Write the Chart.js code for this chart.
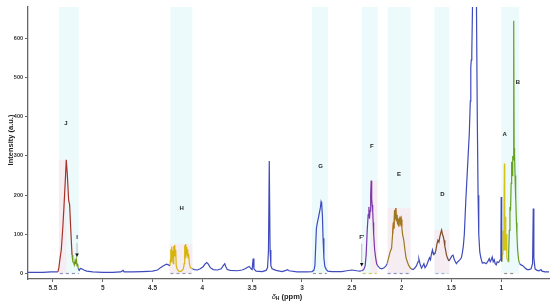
<!DOCTYPE html>
<html><head><meta charset="utf-8">
<script src="https://cdn.jsdelivr.net/npm/chart.js@4/dist/chart.umd.min.js"></script>
<style>html,body{margin:0;padding:0;background:#fff}#c{display:block}</style>
</head><body><canvas id="c" width="550" height="305"></canvas>
<script>
// ---- data (ppm, intensity a.u.) ----
const xTicks = [5.5, 5, 4.5, 4, 3.5, 3, 2.5, 2, 1.5, 1];
const yTicks = [0, 100, 200, 300, 400, 500, 600];

const blue1 = [[5.75,3],[5.68,3],[5.6,3],[5.52,4],[5.45,4]];
const peakJ = [[5.45,4],[5.44,15],[5.43,35],[5.416,60],[5.40,120],[5.389,170],[5.375,240],[5.366,290],[5.356,256],[5.342,187],[5.332,175],[5.322,119],[5.308,47]];
const peakI = [[5.308,47],[5.30,30],[5.292,28],[5.285,22],[5.278,32],[5.272,24],[5.265,36],[5.258,20],[5.252,25],[5.245,12]];
const blue2 = [[5.245,12],[5.235,8],[5.225,13],[5.21,12],[5.19,9],[5.16,6],[5.10,4],[5.0,3],[4.9,3],[4.82,4],[4.795,8],[4.785,4],[4.7,4],[4.6,5],[4.5,6],[4.45,9],[4.42,15],[4.39,20],[4.36,24],[4.34,22],[4.325,20]];
const peakH = [[4.325,20],[4.32,35],[4.316,62],[4.312,30],[4.307,68],[4.302,40],[4.297,58],[4.292,25],[4.287,70],[4.282,45],[4.277,73],[4.272,50],[4.267,60],[4.262,20],[4.25,10],[4.23,5],[4.21,6],[4.19,12],[4.182,25],[4.177,72],[4.172,40],[4.167,75],[4.162,50],[4.157,68],[4.152,45],[4.147,62],[4.142,40],[4.137,50],[4.13,25],[4.12,15],[4.10,12]];
const blue3 = [[4.10,12],[4.08,10],[4.05,9],[4.02,12],[3.99,18],[3.97,25],[3.955,28],[3.94,24],[3.92,15],[3.89,10],[3.85,9],[3.81,12],[3.79,20],[3.775,25],[3.765,18],[3.75,10],[3.72,8],[3.65,7],[3.6,9],[3.57,12],[3.545,16],[3.53,18],[3.51,12],[3.50,10],[3.49,38],[3.482,12],[3.46,6],[3.40,5],[3.36,8],[3.345,15],[3.336,60],[3.328,287],[3.32,60],[3.312,20],[3.30,12],[3.26,8],[3.2,5],[3.16,8],[3.145,10],[3.13,7],[3.05,4],[2.95,4],[2.90,5],[2.88,8],[2.87,20],[2.862,70],[2.855,115],[2.845,130],[2.835,142],[2.825,155],[2.815,168],[2.808,183],[2.802,178],[2.795,150],[2.788,90],[2.78,40],[2.77,18],[2.755,10],[2.74,6],[2.7,5],[2.6,5],[2.55,7],[2.5,9],[2.45,7],[2.42,6],[2.40,7]];
const peakF = [[2.40,7],[2.38,10],[2.365,20],[2.355,50],[2.345,110],[2.335,150],[2.328,170],[2.322,140],[2.316,160],[2.31,200],[2.305,237],[2.30,190],[2.295,175],[2.29,162],[2.285,130],[2.28,100],[2.27,60],[2.26,40],[2.25,25],[2.24,20]];
const blue4 = [[2.24,20],[2.22,14],[2.20,12],[2.18,14],[2.16,18],[2.145,25]];
const peakE = [[2.145,25],[2.13,40],[2.115,55],[2.10,65],[2.09,100],[2.082,130],[2.076,115],[2.07,162],[2.064,140],[2.058,167],[2.052,135],[2.046,150],[2.04,125],[2.034,140],[2.028,120],[2.022,135],[2.016,145],[2.01,130],[2.004,138],[1.998,120],[1.99,100],[1.978,85],[1.966,60],[1.955,40],[1.94,28],[1.927,20],[1.905,12]];
const peakEtop = [[2.09,100],[2.082,130],[2.076,115],[2.07,162],[2.064,140],[2.058,167],[2.052,135],[2.046,150],[2.04,125],[2.034,140],[2.028,120],[2.022,135],[2.016,145],[2.01,130],[2.004,138],[1.998,120]];
const blue5 = [[1.905,12],[1.885,10],[1.867,14],[1.85,20],[1.835,30],[1.826,37],[1.815,25],[1.80,14],[1.79,18],[1.776,25],[1.765,15],[1.75,20],[1.735,30],[1.72,40],[1.71,35],[1.70,50],[1.69,60],[1.68,48],[1.675,52],[1.665,50]];
const peakD = [[1.665,50],[1.655,60],[1.645,75],[1.635,85],[1.625,80],[1.615,95],[1.605,105],[1.598,111],[1.59,100],[1.582,95],[1.574,85],[1.566,70],[1.558,60],[1.55,48],[1.54,40],[1.525,32]];
const blue6 = [[1.525,32],[1.51,38],[1.495,45],[1.483,47],[1.47,35],[1.45,25],[1.435,30],[1.416,35],[1.40,40],[1.39,52],[1.38,70],[1.37,100],[1.355,187],[1.34,260],[1.32,358],[1.31,440],[1.305,527],[1.30,545],[1.295,560],[1.288,680],[1.27,2200],[1.248,680],[1.24,400],[1.232,200],[1.225,100],[1.215,55],[1.204,40],[1.19,27],[1.17,28],[1.15,25],[1.13,33],[1.12,38],[1.11,30],[1.10,35],[1.09,42],[1.08,30],[1.07,35],[1.06,25],[1.05,22],[1.04,30],[1.025,28],[1.01,35],[1.003,45],[1.0,195],[0.997,60],[0.993,30]];
const peakA = [[0.993,30],[0.988,50],[0.982,110],[0.978,60],[0.972,150],[0.968,281],[0.964,120],[0.96,60],[0.956,145],[0.952,70],[0.948,100],[0.943,40],[0.937,35],[0.93,30]];
const peakB = [[0.93,30],[0.925,50],[0.918,110],[0.912,170],[0.906,160],[0.90,230],[0.895,285],[0.89,250],[0.884,300],[0.879,290],[0.874,645],[0.87,320],[0.866,306],[0.861,250],[0.857,190],[0.852,200],[0.847,130],[0.842,100],[0.835,60],[0.825,35],[0.815,25]];
const blue7 = [[0.815,25],[0.80,22],[0.783,20],[0.76,14],[0.74,10],[0.72,10],[0.70,12],[0.685,25],[0.678,166],[0.672,40],[0.66,12],[0.64,8],[0.62,7],[0.60,10],[0.59,6],[0.56,4],[0.52,4]];

// shaded regions (ppm from, ppm to)
const bands = [[5.44,5.24],[4.32,4.10],[2.90,2.74],[2.40,2.24],[2.14,1.91],[1.67,1.52],[1.0,0.82]];
const pinkBoxes = [[5.44,5.366,290],[4.33,4.10,75],[2.31,2.24,237],[2.14,1.91,167],[1.67,1.52,111]];
const baselineDash = [[5.43,5.24,'#8f8fbf'],[4.32,4.11,'#9a9aae'],[2.89,2.75,'#a89090'],[2.39,2.25,'#d8c84a'],[2.14,1.92,'#8f8fbf'],[1.66,1.53,'#9ab4dc'],[0.97,0.85,'#9a8a8a']];
// labels: text, ppm, intensity
const labels = [['J',5.369,384],['H',4.207,167],['G',2.813,274],['F',2.298,325],['E',2.025,254],['D',1.591,203],['A',0.965,356],['B',0.833,488],['I',5.258,92],["F'",2.40,92]];
const arrows = [[5.258,78,42],[2.40,76,18]]; // ppm, from, to

const toXY = a => a.map(p => ({x:p[0], y:p[1]}));
const blueAll = [];
[blue1,blue2,blue3,blue4,blue5,blue6,blue7].forEach((s,i)=>{ if(i) blueAll.push({x:NaN,y:null}); toXY(s).forEach(p=>blueAll.push(p)); });

function ds(data, color, w){ return {data: data, borderColor: color, borderWidth: w||1.2, pointRadius:0, fill:false, tension:0, spanGaps:false}; }

const BLUE = '#3f4bbd';
const datasets = [
  ds(blueAll, BLUE),
  ds(toXY(peakJ), '#a8322a'),
  ds(toXY(peakI), '#6f9a1c'),
  ds(toXY(peakH), '#d9b408'),
  ds(toXY(peakF), '#7a35a8'),
  ds(toXY(peakE), '#9a7a22'),
  ds(toXY(peakEtop), '#f0701a'),
  ds(toXY(peakD), '#7c4a26'),
  ds(toXY(peakA), '#d6c414'),
  ds(toXY(peakB), '#66a020')
];

const deco = {
  id:'deco',
  beforeDatasetsDraw(chart){
    const {ctx, chartArea:a, scales:{x,y}} = chart;
    ctx.save();
    ctx.beginPath(); ctx.rect(a.left, a.top, a.right-a.left, a.bottom-a.top); ctx.clip();
    ctx.fillStyle = '#edfafb';
    bands.forEach(b=>{ const x1=x.getPixelForValue(b[0]), x2=x.getPixelForValue(b[1]);
      ctx.fillRect(x1, a.top, x2-x1, y.getPixelForValue(0)-a.top); });
    ctx.fillStyle = 'rgba(252,228,238,0.6)';
    pinkBoxes.forEach(b=>{ const x1=x.getPixelForValue(b[0]), x2=x.getPixelForValue(b[1]);
      const yt=y.getPixelForValue(b[2]), yb=y.getPixelForValue(0);
      ctx.fillRect(x1, yt, x2-x1, yb-yt); });
    ctx.setLineDash([3,3]); ctx.lineWidth=1.2;
    baselineDash.forEach(b=>{ ctx.strokeStyle=b[2]; ctx.beginPath();
      const yy=y.getPixelForValue(0);
      ctx.moveTo(x.getPixelForValue(b[0]), yy); ctx.lineTo(x.getPixelForValue(b[1]), yy); ctx.stroke(); });
    ctx.restore();
  },
  afterDatasetsDraw(chart){
    const {ctx, scales:{x,y}} = chart;
    ctx.save();
    ctx.fillStyle='#222'; ctx.font='bold 6px Arial'; ctx.textAlign='center'; ctx.textBaseline='middle';
    labels.forEach(l=>ctx.fillText(l[0], x.getPixelForValue(l[1]), y.getPixelForValue(l[2])));
    arrows.forEach(ar=>{
      const px=x.getPixelForValue(ar[0]), y1=y.getPixelForValue(ar[1]), y2=y.getPixelForValue(ar[2]);
      ctx.strokeStyle='#aaa'; ctx.lineWidth=0.8; ctx.beginPath(); ctx.moveTo(px,y1); ctx.lineTo(px,y2-3); ctx.stroke();
      ctx.fillStyle='#111'; ctx.beginPath(); ctx.moveTo(px-1.8,y2-3.5); ctx.lineTo(px+1.8,y2-3.5); ctx.lineTo(px,y2); ctx.closePath(); ctx.fill();
    });
    // axis titles
    ctx.fillStyle='#222';
    ctx.save(); ctx.translate(11,140); ctx.rotate(-Math.PI/2);
    ctx.font='bold 7.5px Arial'; ctx.textAlign='center'; ctx.fillText('Intensity (a.u.)',0,0); ctx.restore();
    ctx.textAlign='left'; ctx.textBaseline='alphabetic';
    const f1='italic 7.5px Arial', f2='bold 5px Arial', f3='bold 7.5px Arial';
    ctx.font=f1; const w1=ctx.measureText('δ').width;
    ctx.font=f2; const w2=ctx.measureText('H').width;
    ctx.font=f3; const w3=ctx.measureText(' (ppm)').width;
    let sx = 287 - (w1+w2+w3)/2, by=298.5;
    ctx.font=f1; ctx.fillText('δ',sx,by); sx+=w1;
    ctx.font=f2; ctx.fillText('H',sx,by+1.5); sx+=w2;
    ctx.font=f3; ctx.fillText(' (ppm)',sx,by);
    ctx.restore();
  }
};

new Chart(document.getElementById('c'), {
  type:'line',
  data:{datasets},
  options:{
    responsive:false, animation:false, devicePixelRatio:1,
    layout:{padding:{top:7,right:1,left:0,bottom:0}},
    plugins:{legend:{display:false}, tooltip:{enabled:false}},
    scales:{
      x:{type:'linear', reverse:true, min:0.52, max:5.75,
        afterBuildTicks:s=>{ s.ticks = xTicks.map(v=>({value:v})); },
        afterFit:s=>{ s.height=26; },
        grid:{display:true, drawOnChartArea:false, drawTicks:true, tickLength:3, color:'#666', lineWidth:1},
        border:{display:true, color:'#666', width:1.3},
        ticks:{font:{size:6.5, weight:'bold', family:'Arial'}, color:'#333', padding:2, maxRotation:0, autoSkip:false, callback:v=>String(v)}
      },
      y:{type:'linear', min:-14, max:680,
        afterBuildTicks:s=>{ s.ticks = yTicks.map(v=>({value:v})); },
        afterFit:s=>{ s.width=28; },
        grid:{display:true, drawOnChartArea:false, drawTicks:true, tickLength:3, color:'#666', lineWidth:1},
        border:{display:true, color:'#666', width:1.3},
        ticks:{font:{size:5.5, weight:'bold', family:'Arial'}, color:'#333', padding:2, callback:v=>String(v)}
      }
    }
  },
  plugins:[deco]
});
</script></body></html>
